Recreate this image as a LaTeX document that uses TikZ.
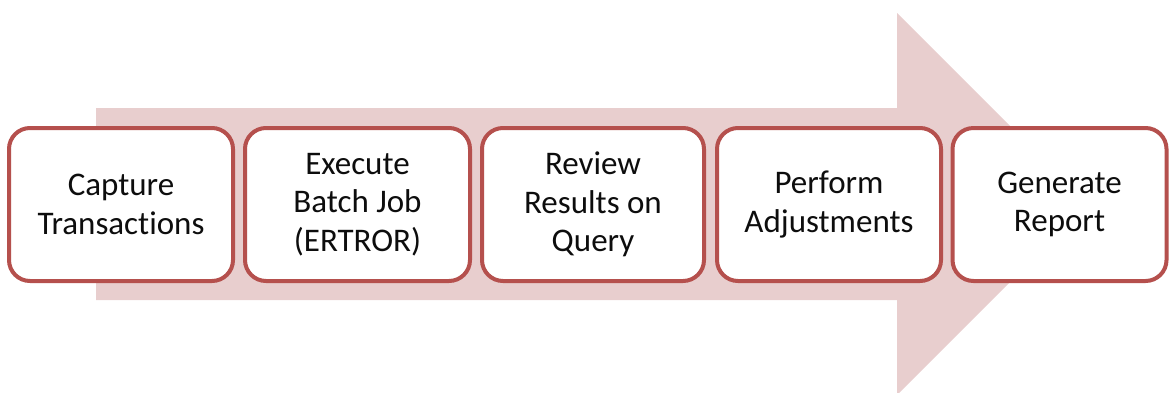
\documentclass[tikz,border=0pt]{standalone}
\usepackage{fontspec}
\setmainfont[RawFeature={-liga;-dlig}]{Carlito}
\definecolor{arrowfill}{RGB}{232,206,206}
\definecolor{boxline}{RGB}{181,80,77}
\definecolor{txt}{RGB}{13,13,13}
\tikzset{
  stepbox/.style={draw=boxline, line width=4pt, fill=white, rounded corners=21pt,
    minimum height=153pt, align=center, text=txt, inner sep=0pt,
    font=\fontsize{33pt}{38.5pt}\selectfont},
  bigarrow/.style={fill=arrowfill, draw=none}
}
\begin{document}
\begin{tikzpicture}[x=1pt,y=-1pt]
\useasboundingbox (0,0) rectangle (1169,392);
\begin{scope}
\clip (0,0) rectangle (1169,392);
\fill[bigarrow] (96,108) -- (897,108) -- (897,13) -- (1088,204) -- (897,395) -- (897,300) -- (96,300) -- cycle;
\node[stepbox, minimum width=224pt] (b1) at (121,204.5) {Capture\\Transactions};
\node[stepbox, minimum width=225pt] (b2) at (357.5,204.5) {Execute\\Batch Job\\(ERTROR)};
\node[stepbox, minimum width=222pt] (b3) at (593,204.5) {Review\\Results on\\Query};
\node[stepbox, minimum width=224pt] (b4) at (829,204.5) {Perform\\Adjustments};
\node[stepbox, minimum width=214pt] (b5) at (1059.5,204.5) {Generate\\Report};
\end{scope}
\end{tikzpicture}
\end{document}
